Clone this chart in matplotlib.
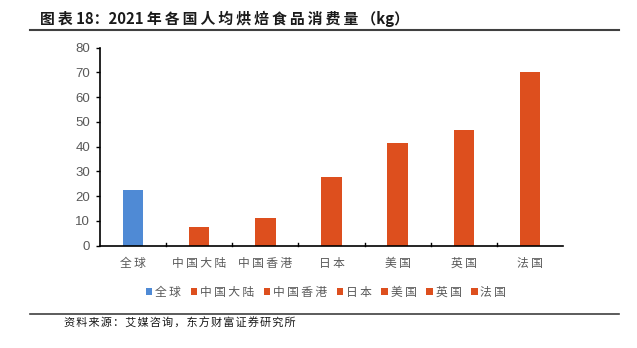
import matplotlib
matplotlib.use("Agg")
import matplotlib.pyplot as plt
from matplotlib.patches import Patch
from matplotlib.lines import Line2D

plt.rcParams['font.family'] = ['Noto Sans CJK SC', 'DejaVu Sans']

categories = ["全球", "中国大陆", "中国香港", "日本", "美国", "英国", "法国"]
values = [22.3, 7.4, 11.3, 27.5, 41.6, 46.5, 70.3]
colors = ["#4F8AD5", "#DD4F1E", "#DD4F1E", "#DD4F1E", "#DD4F1E", "#DD4F1E", "#DD4F1E"]
yticks = [0, 10, 20, 30, 40, 50, 60, 70, 80]

title = "图表 18：2021 年各国人均烘焙食品消费量（kg）"
source = "资料来源：艾媒咨询，东方财富证券研究所"


def is_cjk(ch):
    return '\u3000' <= ch <= '\u9fff' or '\uff00' <= ch <= '\uffef'


def spaced(s, gap='\u2009'):
    """Loosen the tracking between neighbouring CJK characters."""
    out = []
    for i, ch in enumerate(s):
        out.append(ch)
        if i + 1 < len(s) and is_cjk(ch) and is_cjk(s[i + 1]):
            out.append(gap)
    return ''.join(out)


fig = plt.figure(figsize=(6.37, 3.48), dpi=100)
ax = fig.add_axes([0.1565, 0.2945, 0.7278, 0.569])

x = list(range(len(categories)))
ax.bar(x, values, width=0.31, color=colors, zorder=2)

ax.set_xlim(-0.5, len(categories) - 0.5)
ax.set_ylim(0, 80)
ax.set_yticks(yticks)
ax.set_yticklabels([str(t) for t in yticks], family='Liberation Sans', fontsize=9.5, color='#595959')
ax.set_xticks(x)
ax.set_xticklabels([spaced(c) for c in categories], fontsize=8.5, color='#595959', fontweight='light')
ax.tick_params(axis='x', length=0, pad=8)
ax.tick_params(axis='y', length=3, width=1, color='black', direction='out', pad=4)

# small separators between categories on the baseline
for b in range(1, len(categories)):
    ax.plot([b - 0.5, b - 0.5], [0, 1.2], color='black', lw=1, clip_on=False, zorder=3)

for s in ['top', 'right']:
    ax.spines[s].set_visible(False)
ax.spines['left'].set_linewidth(1.2)
ax.spines['bottom'].set_linewidth(1.2)

handles = [Patch(facecolor=c, edgecolor='none') for c in colors]
fig.legend(handles, [spaced(c) for c in categories], loc='center', bbox_to_anchor=(0.512, 0.16), ncol=7,
           frameon=False, fontsize=8.5, handlelength=0.55, handleheight=0.55,
           handletextpad=0.25, columnspacing=0.8, labelcolor='#595959')

fig.text(0.063, 0.945, spaced(title), fontsize=10.7, fontweight='bold', color='#1a1a1a', va='center')
fig.add_artist(Line2D([30 / 637, 619 / 637], [1 - 30 / 348, 1 - 30 / 348], color='#404040', lw=1.5))
fig.add_artist(Line2D([30 / 637, 619 / 637], [1 - 313.5 / 348, 1 - 313.5 / 348], color='#404040', lw=1.2))
fig.text(0.1, 0.072, spaced(source, '\u200a'), fontsize=8, color='#1a1a1a', va='center')

fig.savefig("out.png", dpi=100)
